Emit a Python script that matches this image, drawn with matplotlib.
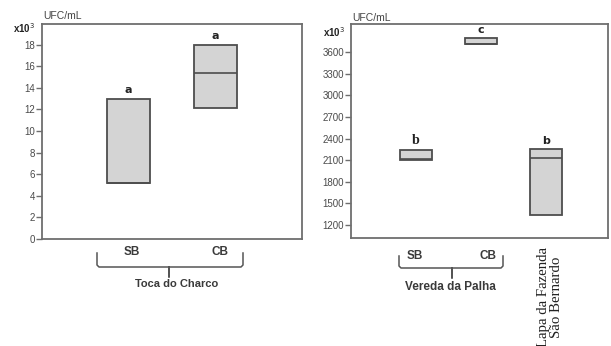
import matplotlib.pyplot as plt
from matplotlib.lines import Line2D

# Toca do Charco (x10^3 UFC/mL)
toca_labels = ["SB", "CB"]
toca_q1 = [5.2, 12.1]
toca_med = [5.2, 15.4]
toca_q3 = [13.0, 18.0]
toca_letters = ["a", "a"]

# Vereda da Palha SB, CB, Lapa da Fazenda Sao Bernardo (x10^3 UFC/mL)
vp_labels = ["SB", "CB", ""]
vp_q1 = [2100, 3705, 1340]
vp_med = [2110, 3715, 2125]
vp_q3 = [2240, 3790, 2255]
vp_letters = ["b", "c", "b"]

left_ticks = [0, 2, 4, 6, 8, 10, 12, 14, 16, 18]
right_ticks = [1200, 1500, 1800, 2100, 2400, 2700, 3000, 3300, 3600]

W, H = 611, 346
FRAME = "#6e6e6e"
BOXFACE = "#d4d4d4"
BOXEDGE = "#4d4d4d"
TXT = "#3a3a3a"

plt.rcParams["font.family"] = ["Liberation Sans", "DejaVu Sans"]

fig = plt.figure(figsize=(W / 100, H / 100), dpi=100, facecolor="white")


def px(x, y):
    return x / W, 1 - y / H


def make_stats(q1, med, q3):
    return [dict(q1=a, med=m, q3=b, whislo=a, whishi=b, fliers=[])
            for a, m, b in zip(q1, med, q3)]


def style_axes(ax, ticks, ylim, xlim):
    ax.set_ylim(*ylim)
    ax.set_xlim(*xlim)
    ax.set_yticks(ticks)
    ax.set_xticks([])
    for s in ax.spines.values():
        s.set_color(FRAME)
        s.set_linewidth(1.3)
    ax.tick_params(axis="y", direction="out", length=4, width=1, color=FRAME,
                   labelsize=7, labelcolor="#4a4a4a", pad=1)


def draw_boxes(ax, q1, med, q3, letters, fonts):
    pos = list(range(1, len(q1) + 1))
    ax.bxp(make_stats(q1, med, q3), positions=pos, widths=0.5, patch_artist=True,
           showfliers=False, showcaps=False,
           boxprops=dict(facecolor=BOXFACE, edgecolor=BOXEDGE, linewidth=1.3),
           medianprops=dict(color=BOXEDGE, linewidth=1.2),
           whiskerprops=dict(linewidth=0))
    for p, top, lt, (fam, fs) in zip(pos, q3, letters, fonts):
        ax.annotate(lt, (p, top), xytext=(0, 2.5), textcoords="offset points",
                    ha="center", va="bottom", fontsize=fs, fontweight="bold",
                    color="#222222", family=fam)


def brace(x0, x1, xc, ytop, ybot, ytick):
    pts = [(x0, ytop), (x0, ybot - 2), (x0 + 2, ybot), (xc, ybot), (xc, ytick),
           (xc, ybot), (x1 - 2, ybot), (x1, ybot - 2), (x1, ytop)]
    xs, ys = zip(*[px(a, b) for a, b in pts])
    fig.add_artist(Line2D(xs, ys, color="#555555", linewidth=1.1,
                          transform=fig.transFigure))


# left panel
ax1 = fig.add_axes([42 / W, 1 - 239 / H, 260 / W, 215 / H])
draw_boxes(ax1, toca_q1, toca_med, toca_q3, toca_letters,
           [("DejaVu Sans", 8), ("DejaVu Sans", 8)])
style_axes(ax1, left_ticks, (0, 19.9), (0, 3))

# right panel
ax2 = fig.add_axes([351 / W, 1 - 238.3 / H, 257 / W, 214.3 / H])
draw_boxes(ax2, vp_q1, vp_med, vp_q3, vp_letters,
           [("Liberation Serif", 10), ("DejaVu Sans", 8), ("DejaVu Sans", 8)])
style_axes(ax2, right_ticks, (1017, 3989), (0, 3.95))

# axis unit labels
fig.text(*px(43, 16), "UFC/mL", fontsize=7.5, color="#444444", va="center")
fig.text(*px(13, 28), "x10$^3$", fontsize=7, fontweight="bold", color="#222222", va="center")
fig.text(*px(352, 18), "UFC/mL", fontsize=7.5, color="#444444", va="center")
fig.text(*px(323, 32), "x10$^3$", fontsize=7, fontweight="bold", color="#222222", va="center")

# group labels under left panel
for lab, x in zip(toca_labels, [132, 220]):
    fig.text(*px(x, 252), lab, fontsize=8.5, fontweight="bold", color=TXT,
             ha="center", va="center")
brace(97, 243, 169, 253, 267, 277)
fig.text(*px(177, 284), "Toca do Charco", fontsize=8, fontweight="bold",
         color=TXT, ha="center", va="center")

# group labels under right panel
for lab, x in zip(vp_labels[:2], [415, 488]):
    fig.text(*px(x, 256), lab, fontsize=8.5, fontweight="bold", color=TXT,
             ha="center", va="center")
brace(399, 503, 452, 256, 268, 278)
fig.text(*px(450, 287), "Vereda da Palha", fontsize=8.5, fontweight="bold",
         color=TXT, ha="center", va="center")

fig.text(*px(550, 247), "Lapa da Fazenda\nSão Bernardo", rotation=90,
         fontsize=10.7, family="Liberation Serif", color="#222222",
         ha="center", va="top", multialignment="center", linespacing=1.05)

fig.savefig("out.png", dpi=100, facecolor="white")
